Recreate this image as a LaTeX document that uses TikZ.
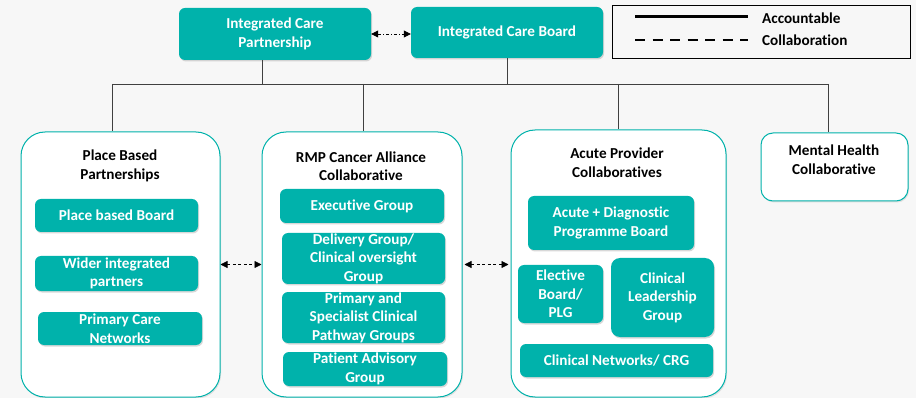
\documentclass[tikz,border=0pt]{standalone}
\usepackage{fontspec}
\setmainfont{Carlito}[Ligatures=NoCommon]
\usetikzlibrary{arrows.meta,shadows}
\definecolor{teal1}{HTML}{00B2AB}
\definecolor{bgc}{HTML}{F7F7F7}
\definecolor{linec}{HTML}{404040}
\tikzset{
  txt/.style={font=\bfseries\fontsize{15.2}{18.5}\selectfont},
  tbox/.style={txt, fill=teal1, rounded corners=6pt, text=white, align=center, inner sep=0pt,
    drop shadow={shadow xshift=1pt, shadow yshift=-1.5pt, opacity=0.3}},
  container/.style={draw=teal1, line width=1pt, fill=white, inner sep=0pt,
    drop shadow={shadow xshift=1pt, shadow yshift=-1.5pt, opacity=0.2}},
  title/.style={txt, text=black, align=center, inner sep=0pt},
  conn/.style={linec, line width=0.9pt},
  collab/.style={line width=0.8pt, {Triangle[length=7pt,width=7pt]}-{Triangle[length=7pt,width=7pt]}},
}
\begin{document}
\begin{tikzpicture}[x=1pt,y=-1pt]
\fill[bgc] (0,0) rectangle (916,398);
\useasboundingbox (0,0) rectangle (916,398);

% top boxes
\node[tbox, minimum width=192, minimum height=52] (icp) at (275,34) {Integrated Care\\Partnership};
\node[tbox, minimum width=192, minimum height=51] (icb) at (507,32.5) {Integrated Care Board};

% legend
\node[draw=black, line width=0.8pt, fill=bgc, minimum width=298, minimum height=53, inner sep=0pt,
  drop shadow={shadow xshift=1pt, shadow yshift=-1.5pt, opacity=0.3}] (legend) at (761,31.5) {};
\coordinate (la1) at (635,17);
\coordinate (la2) at (748,17);
\coordinate (lc1) at (635,40);
\coordinate (lc2) at (748,40);
\draw[line width=3pt] (la1) -- (la2);
\draw[line width=2pt, dash pattern=on 10pt off 7.5pt] (lc1) -- (lc2);
\node[txt, anchor=west, inner sep=0pt] (lacc) at (762,18) {Accountable};
\node[txt, anchor=west, inner sep=0pt] (lcol) at (762,40) {Collaboration};

% containers
\node[container, rounded corners=24pt, minimum width=199, minimum height=265] (place) at (120.5,264.5) {};
\node[container, rounded corners=24pt, minimum width=200, minimum height=265] (rmp) at (362,264.5) {};
\node[container, rounded corners=24pt, minimum width=215, minimum height=267] (acute) at (618.5,263.5) {};
\node[container, rounded corners=12pt, minimum width=147, minimum height=68] (mh) at (834.5,167) {};

% titles
\node[title] (placet) at (120,166) {Place Based\\Partnerships};
\node[title] (rmpt) at (361,166) {RMP Cancer Alliance\\Collaborative};
\node[title] (acutet) at (617,162.5) {Acute Provider\\Collaboratives};
\node[title] (mht) at (834,159.5) {Mental Health\\Collaborative};

% inner boxes
\node[tbox, minimum width=163, minimum height=33] (pbb) at (116.5,215.5) {Place based Board};
\node[tbox, minimum width=163, minimum height=35] (wip) at (116.5,273.5) {Wider integrated\\partners};
\node[tbox, minimum width=164, minimum height=33] (pcn) at (120,328.5) {Primary Care\\Networks};

\node[tbox, minimum width=164, minimum height=34] (exe) at (362,206) {Executive Group};
\node[tbox, minimum width=163, minimum height=51] (del) at (363.5,258.5) {Delivery Group/\\Clinical oversight\\Group};
\node[tbox, minimum width=163, minimum height=51] (pri) at (363.5,317.5) {Primary and\\Specialist Clinical\\Pathway Groups};
\node[tbox, minimum width=164, minimum height=34] (pat) at (365,369) {Patient Advisory\\Group};

\node[tbox, minimum width=166, minimum height=54] (adp) at (611,223) {Acute + Diagnostic\\Programme Board};
\node[tbox, minimum width=85, minimum height=58] (ele) at (560.5,294) {Elective\\Board/\\PLG};
\node[tbox, minimum width=103, minimum height=79, rounded corners=9pt] (clg) at (662.5,297.5) {Clinical\\Leadership\\Group};
\node[tbox, minimum width=193, minimum height=33] (cnc) at (616.5,360.5) {Clinical Networks/ CRG};

% accountable tree
\coordinate (busL) at (112,84);
\coordinate (busR) at (828,84);
\coordinate (icpdrop) at (262,84);
\coordinate (rmpdrop) at (363,84);
\coordinate (acudrop) at (618,84);
\draw[conn] (busL) -- (busR);
\draw[conn] (icpdrop |- icp.south) -- (icpdrop);
\draw[conn] (icb.south) -- (icb.south |- busL);
\draw[conn] (busL) -- (busL |- place.north);
\draw[conn] (rmpdrop) -- (rmpdrop |- rmp.north);
\draw[conn] (acudrop) -- (acudrop |- acute.north);
\draw[conn] (busR) -- (busR |- mh.north);

% collaboration arrows
\draw[collab, dash pattern=on 3pt off 2pt on 1pt off 2pt] (icp.east) -- (icp.east -| icb.west);
\draw[collab, dash pattern=on 3pt off 2.5pt] (place.east) -- (rmp.west);
\draw[collab, dash pattern=on 3pt off 2.5pt] ([xshift=2pt]rmp.east) -- ([xshift=-2pt]rmp.east -| acute.west);
\end{tikzpicture}
\end{document}
